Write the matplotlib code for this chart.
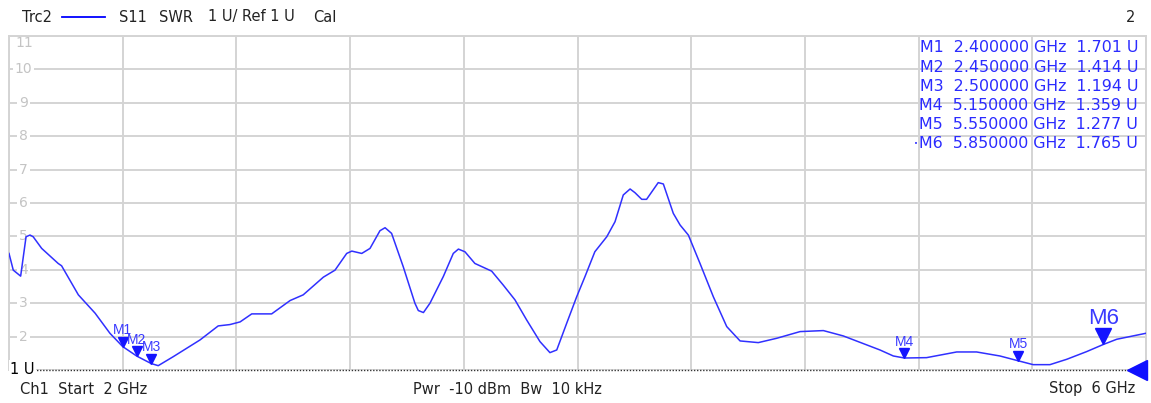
import matplotlib
matplotlib.use("Agg")
import matplotlib.pyplot as plt
import matplotlib.transforms as mtransforms

# ---------------- data ----------------
freq_ghz = [2.000, 2.015, 2.041, 2.060, 2.074, 2.085, 2.115, 2.173, 2.185, 2.244,
            2.303, 2.355, 2.400, 2.450, 2.500, 2.525, 2.578, 2.672, 2.736, 2.777,
            2.813, 2.854, 2.924, 2.989, 3.035, 3.106, 3.147, 3.188, 3.206, 3.241,
            3.270, 3.305, 3.323, 3.346, 3.387, 3.428, 3.440, 3.458, 3.481, 3.528,
            3.563, 3.581, 3.604, 3.639, 3.698, 3.739, 3.780, 3.821, 3.868, 3.903,
            3.927, 3.962, 3.997, 4.026, 4.061, 4.103, 4.132, 4.161, 4.185, 4.202,
            4.226, 4.243, 4.284, 4.302, 4.337, 4.361, 4.390, 4.431, 4.478, 4.525,
            4.572, 4.636, 4.701, 4.783, 4.865, 4.935, 5.064, 5.111, 5.150, 5.228,
            5.334, 5.404, 5.486, 5.550, 5.603, 5.662, 5.721, 5.791, 5.850, 5.897,
            6.000]
swr = [4.49, 3.99, 3.81, 4.99, 5.04, 4.99, 4.64, 4.19, 4.12, 3.25,
       2.70, 2.10, 1.701, 1.414, 1.194, 1.13, 1.40, 1.90, 2.32, 2.36,
       2.44, 2.68, 2.68, 3.08, 3.25, 3.78, 3.99, 4.49, 4.56, 4.49,
       4.64, 5.17, 5.26, 5.09, 4.09, 3.00, 2.78, 2.72, 3.00, 3.80,
       4.49, 4.62, 4.54, 4.19, 3.96, 3.54, 3.10, 2.50, 1.85, 1.52,
       1.60, 2.40, 3.19, 3.79, 4.54, 4.99, 5.44, 6.24, 6.42, 6.31,
       6.11, 6.11, 6.61, 6.57, 5.69, 5.34, 5.04, 4.19, 3.19, 2.30,
       1.87, 1.82, 1.95, 2.15, 2.18, 2.02, 1.60, 1.42, 1.359, 1.37,
       1.54, 1.54, 1.42, 1.277, 1.16, 1.16, 1.32, 1.55, 1.765, 1.92,
       2.10]

marker_names = ["M1", "M2", "M3", "M4", "M5", "M6"]
marker_freq = [2.40, 2.45, 2.50, 5.15, 5.55, 5.85]
marker_swr = [1.701, 1.414, 1.194, 1.359, 1.277, 1.765]
active_marker = "M6"

y_ticks = [1, 2, 3, 4, 5, 6, 7, 8, 9, 10, 11]
x_start, x_stop, x_divs = 2.0, 6.0, 10
ref_level = 1

header_parts = [("Trc2", 22), ("S11", 119), ("SWR", 159), ("1 U/ Ref 1 U", 208), ("Cal", 313)]
footer_left = "Ch1  Start  2 GHz"
footer_mid = "Pwr  -10 dBm  Bw  10 kHz"
footer_right = "Stop  6 GHz"
channel_no = "2"

# ---------------- figure ----------------
W, H = 1151, 403
fig = plt.figure(figsize=(W / 100, H / 100), dpi=100)
fig.patch.set_facecolor("white")
ax = fig.add_axes([9 / W, 33 / H, 1137 / W, 334 / H])

def fx(px):
    return px / W

def fy(py):
    return 1 - py / H

BLUE = "#3030ff"
GRID = "#d4d4d4"
TXT = "#222222"

ax.set_xlim(x_start, x_stop)
ax.set_ylim(y_ticks[0], y_ticks[-1])
step = (x_stop - x_start) / x_divs
ax.set_xticks([x_start + i * step for i in range(x_divs + 1)])
ax.set_yticks(y_ticks)
ax.tick_params(left=False, bottom=False, labelleft=False, labelbottom=False)
ax.grid(True, color=GRID, linewidth=1.4, zorder=0.5)
ax.set_axisbelow(True)
for s in ["left", "top", "right"]:
    ax.spines[s].set_color(GRID)
    ax.spines[s].set_linewidth(1.4)
ax.spines["bottom"].set_visible(False)

# reference line (dotted)
ax.axhline(ref_level, color="#333333", linewidth=1.0, linestyle=(0, (1, 1.2)), zorder=3, clip_on=False)

# trace
ax.plot(freq_ghz, swr, color=BLUE, linewidth=1.1, zorder=4)

# y tick labels inside the plot, gray (below the trace)
blend = mtransforms.blended_transform_factory(ax.transAxes, ax.transData)
for v in y_ticks[1:-1]:
    ax.text(14.5 / 1137, v, str(v), transform=blend, ha="center", va="center",
            fontsize=10, color="#c4c4c4", zorder=2,
            bbox=dict(boxstyle="square,pad=0.12", fc="white", ec="none"))
ax.text(15 / 1137, y_ticks[-1], str(y_ticks[-1]), transform=blend, ha="center", va="top",
        fontsize=10, color="#c4c4c4", zorder=2)

# markers
for name, f, v in zip(marker_names, marker_freq, marker_swr):
    big = name == active_marker
    ms = 11.5 if big else 6.8
    off = mtransforms.offset_copy(ax.transData, fig=fig, x=0, y=ms / 2, units="points")
    ax.plot([f], [v], marker="v", markersize=ms, color="#1414ff", transform=off,
            zorder=6, clip_on=False, linestyle="none")
    ax.annotate(name, (f, v), xytext=(0, (20 if big else 12.5) * 0.72),
                textcoords="offset points", ha="center", va="baseline",
                fontsize=16 if big else 10, color="#3a3aff", zorder=7,
                family="Liberation Sans")

# reference level triangle at right end
off_ref = mtransforms.offset_copy(blend, fig=fig, x=-8.6 * 0.72, y=0, units="points")
ax.plot([1.0], [ref_level], marker="<", markersize=15, color="#0f0fff",
        transform=off_ref, clip_on=False, zorder=8)

# 1 U label
fig.text(fx(10), fy(369), "1 U", ha="left", va="center", fontsize=10.5, color="black",
         bbox=dict(boxstyle="square,pad=0.1", fc="white", ec="none"), zorder=10)

# header
for txt, xp in header_parts:
    fig.text(fx(xp), fy(17), txt, ha="left", va="center", fontsize=10.5, color=TXT)
fig.add_artist(plt.Line2D([fx(62), fx(105)], [fy(17), fy(17)], color="#0000ff", linewidth=1.3))
fig.text(fx(1135), fy(17), channel_no, ha="right", va="center", fontsize=10.5, color=TXT)

# footer
fig.text(fx(20), fy(389), footer_left, ha="left", va="center", fontsize=10.5, color=TXT)
fig.text(fx(413), fy(389), footer_mid, ha="left", va="center", fontsize=10.5, color=TXT)
fig.text(fx(1135), fy(389), footer_right, ha="right", va="center", fontsize=10.5, color=TXT)

# marker table
row0, dy = 48, 19.1
for i, (name, f, v) in enumerate(zip(marker_names, marker_freq, marker_swr)):
    yp = row0 + i * dy
    fig.text(fx(1138), fy(yp), f"{name}  {f:.6f} GHz  {v:.3f} U", ha="right", va="center",
             fontsize=11.4, color="#2b2bff", zorder=9)
    if name == active_marker:
        fig.text(fx(916), fy(yp), "•", ha="center", va="center", fontsize=5, color="#2b2bff")

fig.savefig("out.png", dpi=100, facecolor="white")
